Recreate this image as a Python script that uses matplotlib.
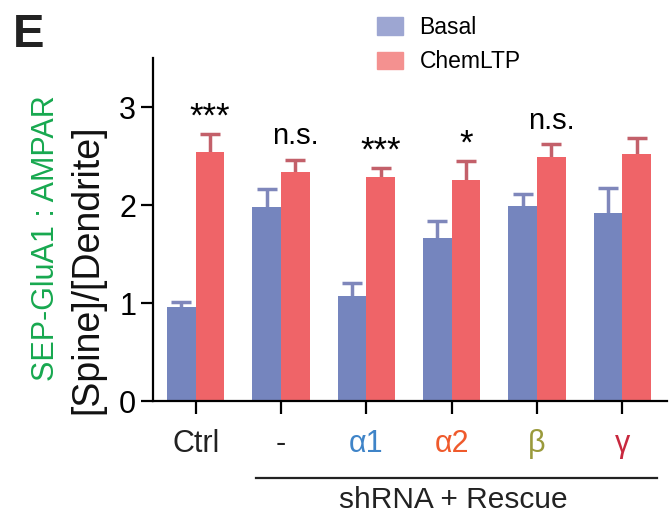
import numpy as np
import matplotlib
matplotlib.use('Agg')
import matplotlib.pyplot as plt
from matplotlib.patches import Patch

plt.rcParams['font.family'] = ['Liberation Sans', 'DejaVu Sans']

groups = ['Ctrl', '-', 'α1', 'α2', 'β', 'γ']
group_colors = ['#222222', '#222222', '#3f84c8', '#ef5a2c', '#9a9a3c', '#c8283e']
basal = [0.96, 1.98, 1.07, 1.66, 1.99, 1.92]
basal_err = [0.05, 0.18, 0.13, 0.18, 0.12, 0.25]
ltp = [2.54, 2.34, 2.29, 2.26, 2.49, 2.52]
ltp_err = [0.19, 0.12, 0.09, 0.19, 0.13, 0.17]
signif = ['***', 'n.s.', '***', '*', 'n.s.', '']

fig = plt.figure(figsize=(6.69, 5.14), dpi=100)
ax = fig.add_axes([0.2287, 0.2198, 0.768, 0.667])

x = np.arange(len(groups))
w = 0.335


def bars(xpos, vals, errs, color, ecolor):
    ax.bar(xpos, vals, w, color=color, zorder=2)
    tops = np.array(vals) + np.array(errs)
    # upper error bar only, cap only at the top
    ax.vlines(xpos, vals, tops, color=ecolor, lw=2.5, zorder=1)
    ax.plot(xpos, tops, ls='none', marker='_', ms=14, mew=2.5, color=ecolor, zorder=1)


bars(x - w / 2, basal, basal_err, '#7585be', '#7f87bb')
bars(x + w / 2, ltp, ltp_err, '#ef6468', '#c3606a')

for i, s in enumerate(signif):
    if not s:
        continue
    top = ltp[i] + ltp_err[i]
    if s.startswith('*'):
        ax.text(i + w / 2, top, s, ha='center', va='bottom', fontsize=25)
    else:
        ax.text(i + w / 2, top + 0.16, s, ha='center', va='baseline', fontsize=21)

ax.set_xlim(-0.5, 5.52)
ax.set_ylim(0, 3.5)
ax.set_yticks([0, 1, 2, 3])
ax.set_xticks(x)
ax.set_xticklabels(groups, fontsize=22)
for lbl, c in zip(ax.get_xticklabels(), group_colors):
    lbl.set_color(c)
ax.tick_params(axis='y', labelsize=22, length=9, width=1.6, pad=3)
ax.tick_params(axis='x', length=9.5, width=1.6, pad=11)
for side in ['top', 'right']:
    ax.spines[side].set_visible(False)
for side in ['left', 'bottom']:
    ax.spines[side].set_linewidth(1.6)

# bracket under the rescue groups
fig.add_artist(plt.Line2D([256 / 669, 657 / 669], [1 - 478 / 514] * 2,
                          color='#222222', lw=1.6))
fig.text(453 / 669, 1 - 500 / 514, 'shRNA + Rescue', ha='center', va='center',
         fontsize=21.5, color='#222222')

fig.text(46 / 669, 1 - 238 / 514, 'SEP-GluA1 : AMPAR', rotation=90,
         ha='center', va='center', fontsize=22, color='#17a84f')
fig.text(87 / 669, 1 - 269 / 514, '[Spine]/[Dendrite]', rotation=90,
         ha='center', va='center', fontsize=27, color='#111111')

fig.text(13 / 669, 1 - 47 / 514, 'E', fontsize=34, fontweight='bold',
         ha='left', va='baseline', color='#222222')

handles = [Patch(color='#9da6d2'), Patch(color='#f49190')]
fig.legend(handles, ['Basal', 'ChemLTP'], loc='upper left',
           bbox_to_anchor=(377 / 669, 1 - 16 / 514), frameon=False,
           fontsize=16.5, borderpad=0, borderaxespad=0, handlelength=1.15,
           handleheight=0.8, handletextpad=0.7, labelspacing=0.5)

fig.savefig('out.png', dpi=100)
